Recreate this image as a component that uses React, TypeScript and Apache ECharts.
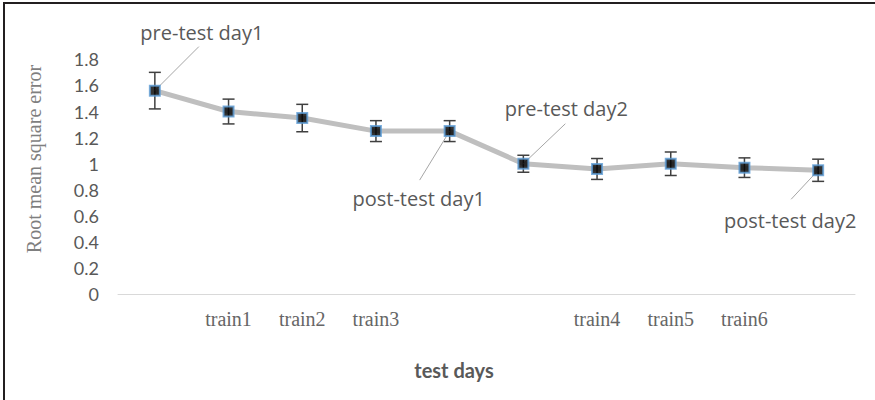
import React, { useEffect, useRef } from "react";
import * as echarts from "echarts";

// Test sessions along the x axis (only training sessions carry a tick label)
const categories = ["", "train1", "train2", "train3", "", "", "train4", "train5", "train6", ""];
// Mean RMSE per session and its error (± half-range)
const rmse = [1.56, 1.4, 1.35, 1.25, 1.25, 1.0, 0.96, 1.0, 0.97, 0.95];
const rmseErr = [0.14, 0.095, 0.105, 0.08, 0.08, 0.065, 0.08, 0.09, 0.075, 0.085];
// Callout names attached to the test sessions
const calloutIndex = [0, 4, 5, 9];
const calloutText = ["pre-test day1", "post-test day1", "pre-test day2", "post-test day2"];
// Callout placement relative to the point: label centre offset and leader end offset
const calloutOffset = [
  { dx: 47, dy: -58, lx: 44, ly: -44 },
  { dx: -31, dy: 67, lx: -30, ly: 49 },
  { dx: 43, dy: -55, lx: 42, ly: -40 },
  { dx: -28, dy: 50, lx: -27, ly: 29 },
];
const yTicks = { min: 0, max: 1.8, interval: 0.2 };

const GREY_TEXT = "#595959";

export default function App() {
  const ref = useRef<HTMLDivElement>(null);

  useEffect(() => {
    if (!ref.current) return;
    const chart = echarts.init(ref.current, undefined, { renderer: "svg" });

    const option: any = {
      animation: false,
      backgroundColor: "#ffffff",
      grid: { left: 118, right: 20, top: 59.3, bottom: 105.7 },
      xAxis: {
        type: "category",
        data: categories,
        boundaryGap: true,
        axisLine: { show: true, lineStyle: { color: "#d9d9d9", width: 1 } },
        axisTick: { show: false },
        splitLine: { show: false },
        axisLabel: {
          interval: 0,
          margin: 15,
          color: "#666666",
          fontFamily: "'Liberation Serif', 'Times New Roman', serif",
          fontSize: 20,
        },
      },
      yAxis: {
        type: "value",
        min: yTicks.min,
        max: yTicks.max,
        interval: yTicks.interval,
        axisLine: { show: false },
        axisTick: { show: false },
        splitLine: { show: false },
        axisLabel: {
          margin: 19,
          color: GREY_TEXT,
          fontFamily: "Lato, sans-serif",
          fontSize: 18,
        },
      },
      graphic: [
        // frame edges along the top and left
        { type: "rect", shape: { x: 3, y: 2, width: 872, height: 2 }, style: { fill: "#231f20" } },
        { type: "rect", shape: { x: 3, y: 2, width: 2, height: 398 }, style: { fill: "#231f20" } },
        {
          type: "text",
          x: 34,
          y: 159,
          rotation: Math.PI / 2,
          style: {
            text: "Root mean square error",
            fill: "#7f7f7f",
            fontFamily: "'Liberation Serif', 'Times New Roman', serif",
            fontSize: 20,
            align: "center",
            verticalAlign: "middle",
          },
        },
        {
          type: "text",
          x: 454,
          y: 370,
          style: {
            text: "test days",
            fill: GREY_TEXT,
            fontFamily: "Lato, sans-serif",
            fontWeight: "bold",
            fontSize: 20,
            align: "center",
            verticalAlign: "middle",
          },
        },
      ],
      series: [
        {
          type: "line",
          data: rmse,
          showSymbol: false,
          lineStyle: { color: "#bfbfbf", width: 5 },
          z: 1,
        },
        {
          type: "custom",
          z: 2,
          data: rmse.map((m, i) => [i, m, rmseErr[i]]),
          renderItem: (_params: any, api: any) => {
            const i = api.value(0);
            const m = api.value(1);
            const e = api.value(2);
            const top = api.coord([i, m + e]);
            const bot = api.coord([i, m - e]);
            const cap = 6;
            const style = { stroke: "#404040", lineWidth: 1.5 };
            return {
              type: "group",
              children: [
                { type: "line", shape: { x1: top[0], y1: top[1], x2: bot[0], y2: bot[1] }, style },
                { type: "line", shape: { x1: top[0] - cap, y1: top[1], x2: top[0] + cap, y2: top[1] }, style },
                { type: "line", shape: { x1: bot[0] - cap, y1: bot[1], x2: bot[0] + cap, y2: bot[1] }, style },
              ],
            };
          },
        },
        {
          type: "custom",
          z: 3,
          data: calloutIndex.map((i) => [i, rmse[i]]),
          renderItem: (params: any, api: any) => {
            const k = params.dataIndex;
            const p = api.coord([api.value(0), api.value(1)]);
            const o = calloutOffset[k];
            return {
              type: "group",
              children: [
                {
                  type: "line",
                  shape: { x1: p[0], y1: p[1], x2: p[0] + o.lx, y2: p[1] + o.ly },
                  style: { stroke: "#a6a6a6", lineWidth: 1 },
                },
                {
                  type: "text",
                  x: p[0] + o.dx,
                  y: p[1] + o.dy,
                  style: {
                    text: calloutText[k],
                    fill: GREY_TEXT,
                    fontFamily: "'Open Sans', sans-serif",
                    fontSize: 20,
                    align: "center",
                    verticalAlign: "middle",
                  },
                },
              ],
            };
          },
        },
        {
          type: "scatter",
          data: rmse,
          symbol: "rect",
          symbolSize: 10,
          itemStyle: { color: "#000000", borderColor: "#5b9bd5", borderWidth: 2 },
          z: 4,
        },
      ],
    };

    chart.setOption(option);
    return () => chart.dispose();
  }, []);

  return (
    <div
      ref={ref}
      style={{ position: "absolute", left: 0, top: 0, width: 875, height: 400 }}
    />
  );
}
